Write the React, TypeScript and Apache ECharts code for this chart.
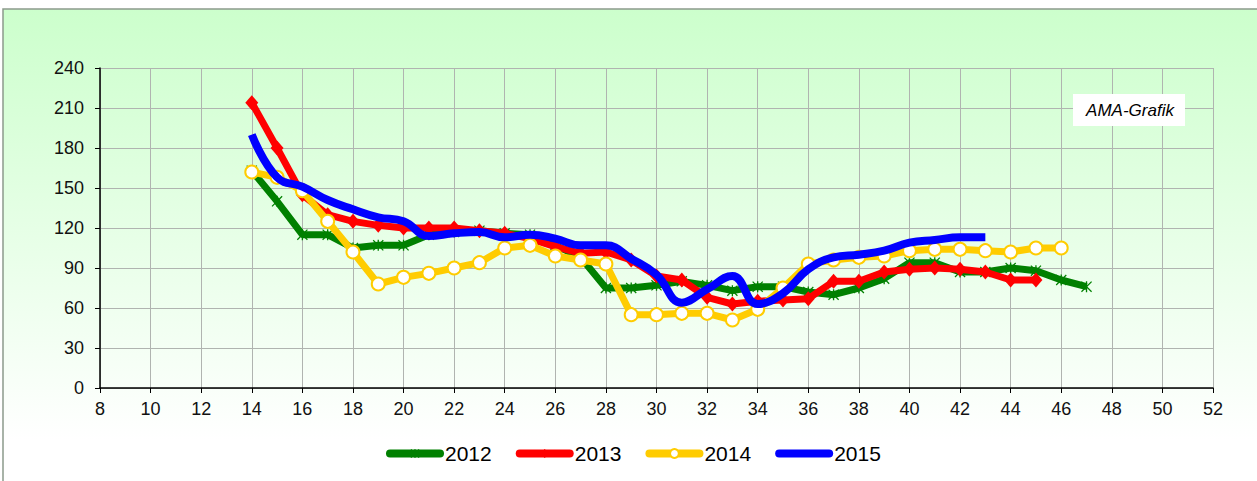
import React, { useEffect, useRef } from "react";
import * as echarts from "echarts";

const weeks2012 = [14, 15, 16, 17, 18, 19, 20, 21, 22, 23, 24, 25, 26, 27, 28, 29, 30, 31, 32, 33, 34, 35, 36, 37, 38, 39, 40, 41, 42, 43, 44, 45, 46, 47];
const values2012 = [163, 140, 115, 115, 105, 107, 107, 115, 117, 118, 116, 115, 107, 98, 75, 75, 77, 80, 77, 73, 76, 76, 72, 70, 75, 82, 94, 94, 87, 87, 90, 88, 81, 76];

const weeks2013 = [14, 15, 16, 17, 18, 19, 20, 21, 22, 23, 24, 25, 26, 27, 28, 29, 30, 31, 32, 33, 34, 35, 36, 37, 38, 39, 40, 41, 42, 43, 44, 45];
const values2013 = [214, 180, 145, 130, 125, 122, 120, 120, 120, 118, 116, 112, 106, 101, 102, 96, 84, 81, 68, 63, 65, 66, 67, 80, 80, 87, 89, 90, 89, 87, 81, 81];

const weeks2014 = [14, 15, 16, 17, 18, 19, 20, 21, 22, 23, 24, 25, 26, 27, 28, 29, 30, 31, 32, 33, 34, 35, 36, 37, 38, 39, 40, 41, 42, 43, 44, 45, 46];
const values2014 = [162, 158, 148, 125, 102, 78, 83, 86, 90, 94, 105, 107, 99, 96, 93, 55, 55, 56, 56, 51, 59, 75, 93, 96, 98, 99, 103, 104, 104, 103, 102, 105, 105];

const weeks2015 = [14, 15, 16, 17, 18, 19, 20, 21, 22, 23, 24, 25, 26, 27, 28, 29, 30, 31, 32, 33, 34, 35, 36, 37, 38, 39, 40, 41, 42, 43];
const values2015 = [190, 158, 151, 141, 134, 128, 125, 114, 116, 117, 113, 115, 112, 107, 107, 97, 85, 64, 74, 84, 63, 71, 89, 98, 100, 103, 109, 111, 113, 113];

const seriesNames = ["2012", "2013", "2014", "2015"];
const annotation = "AMA-Grafik";

const pairs = (w: number[], v: number[]) => w.map((x, i) => [x, v[i]]);

const asterisk =
  "path://M4.4 0 L5.6 0 L5.6 10 L4.4 10 Z M0 0.8 L0.8 0 L10 9.2 L9.2 10 Z M9.2 0 L10 0.8 L0.8 10 L0 9.2 Z";

export default function App() {
  const ref = useRef<HTMLDivElement>(null);
  useEffect(() => {
    if (!ref.current) return;
    const chart = echarts.init(ref.current, null, { renderer: "svg" });
    const font = "Arial, 'Liberation Sans', sans-serif";
    chart.setOption({
      animation: false,
      backgroundColor: "#ffffff",
      textStyle: { fontFamily: font },
      graphic: [
        {
          type: "rect",
          z: -10,
          silent: true,
          shape: { x: 3, y: 9, width: 1270, height: 490 },
          style: {
            fill: new echarts.graphic.LinearGradient(0, 0, 0, 1, [
              { offset: 0, color: "#ccffcc" },
              { offset: 0.88, color: "#ffffff" },
              { offset: 1, color: "#ffffff" },
            ]),
            stroke: "#8c9a8c",
            lineWidth: 1.5,
          },
        },
        {
          type: "rect",
          z: 10,
          silent: true,
          shape: { x: 1073, y: 94, width: 112, height: 32 },
          style: { fill: "#ffffff" },
        },
        {
          type: "text",
          z: 11,
          silent: true,
          x: 1130,
          y: 110,
          style: {
            text: annotation,
            fill: "#000000",
            font: "italic 17px Arial, 'Liberation Sans', sans-serif",
            align: "center",
            verticalAlign: "middle",
          },
        },
      ],
      grid: { left: 100, top: 68, width: 1113, height: 320, containLabel: false },
      legend: {
        data: [
          { name: seriesNames[0] },
          { name: seriesNames[1] },
          { name: seriesNames[2] },
          { name: seriesNames[3], itemStyle: { opacity: 0 } },
        ],
        bottom: 12,
        left: 381,
        itemWidth: 50,
        itemHeight: 11,
        itemGap: 24,
        lineStyle: { width: 8, cap: "round" },
        textStyle: { fontSize: 21, color: "#000", fontFamily: font },
      },
      xAxis: {
        type: "value",
        min: 8,
        max: 52,
        interval: 2,
        axisLine: { show: true, lineStyle: { color: "#000", width: 1.5 } },
        axisTick: { show: true, length: 5, lineStyle: { color: "#000" } },
        axisLabel: { fontSize: 18, fontFamily: font, color: "#111", margin: 12 },
        splitLine: { show: true, lineStyle: { color: "#b0b4b0", width: 1 } },
      },
      yAxis: {
        type: "value",
        min: 0,
        max: 240,
        interval: 30,
        axisLine: { show: true, lineStyle: { color: "#000", width: 1.5 } },
        axisTick: { show: true, length: 5, lineStyle: { color: "#000" } },
        axisLabel: { fontSize: 18, fontFamily: font, color: "#111", margin: 16 },
        splitLine: { show: true, lineStyle: { color: "#b0b4b0", width: 1 } },
      },
      series: [
        {
          name: seriesNames[0],
          type: "line",
          data: pairs(weeks2012, values2012),
          symbol: asterisk,
          symbolSize: 11,
          itemStyle: { color: "#008000" },
          lineStyle: { color: "#008000", width: 7 },
          z: 2,
        },
        {
          name: seriesNames[1],
          type: "line",
          data: pairs(weeks2013, values2013),
          symbol: "diamond",
          symbolSize: [13, 15],
          itemStyle: { color: "#ff0000" },
          lineStyle: { color: "#ff0000", width: 7 },
          z: 3,
        },
        {
          name: seriesNames[2],
          type: "line",
          data: pairs(weeks2014, values2014),
          symbol: "circle",
          symbolSize: 13,
          itemStyle: { color: "#ffffff", borderColor: "#ffcc00", borderWidth: 2 },
          lineStyle: { color: "#ffcc00", width: 7 },
          z: 4,
        },
        {
          name: seriesNames[3],
          type: "line",
          data: pairs(weeks2015, values2015),
          symbol: "none",
          smooth: 0.45,
          itemStyle: { color: "#0000ff" },
          lineStyle: { color: "#0000ff", width: 8 },
          z: 5,
        },
      ],
    });
    return () => chart.dispose();
  }, []);
  return (
    <div
      ref={ref}
      style={{ position: "fixed", left: 0, top: 0, width: 1257, height: 481 }}
    />
  );
}
